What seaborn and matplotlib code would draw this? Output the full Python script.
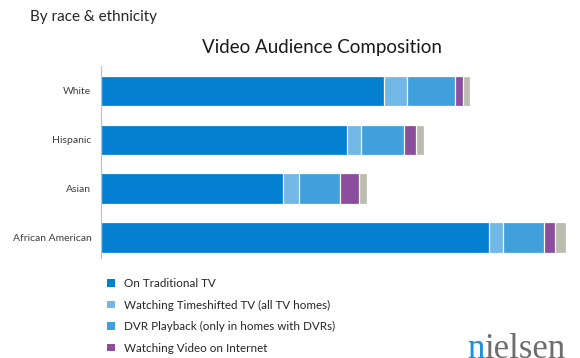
import numpy as np
import pandas as pd
import matplotlib
matplotlib.use("Agg")
import matplotlib.pyplot as plt
import seaborn as sns
from matplotlib.patches import Patch

categories = ["White", "Hispanic", "Asian", "African American"]
series = ["On Traditional TV", "Watching Timeshifted TV (all TV homes)",
          "DVR Playback (only in homes with DVRs)", "Watching Video on Internet",
          "Watching Video on Mobile Phone"]
traditional = [146.0, 127.0, 94.0, 200.0]
timeshifted = [11.7, 7.0, 8.2, 7.1]
dvr = [25.0, 22.4, 21.1, 21.1]
internet = [3.8, 6.2, 9.7, 5.7]
mobile = [3.8, 3.9, 4.1, 5.8]

colors = ["#0380D2", "#72B8E6", "#40A0DC", "#8A4E9C", "#BDBCB0"]

sns.set_theme(style="white")
plt.rcParams["font.family"] = ["Lato", "DejaVu Sans"]

fig = plt.figure(figsize=(5.8, 3.58), dpi=100)
W, H = 580, 358
ax = fig.add_axes([101 / W, 1 - 258 / H, (570 - 101) / W, (258 - 66) / H])

vals = np.array([traditional, timeshifted, dvr, internet, mobile])
cum = np.cumsum(vals, axis=0)
for i in reversed(range(len(series))):
    df = pd.DataFrame({"cat": categories, "v": cum[i]})
    sns.barplot(data=df, x="v", y="cat", orient="h", color=colors[i], width=0.62,
                edgecolor="white", linewidth=0.9, saturation=1, ax=ax)

ax.set_xlim(0, (570 - 101) / 1.94)
ax.set_ylim(3.42, -0.51)
ax.set_xlabel("")
ax.set_ylabel("")
ax.set_xticks([])
for s in ["top", "right", "bottom"]:
    ax.spines[s].set_visible(False)
ax.spines["left"].set_color("#BFBFBF")
ax.spines["left"].set_linewidth(0.8)
ax.tick_params(axis="y", length=0, pad=7, labelsize=7.5, labelcolor="#404040")

fig.text(322 / W, 1 - 48 / H, "Video Audience Composition", ha="center", va="center",
         fontsize=13.5, color="#1A1A1A")
fig.text(30 / W, 1 - 17 / H, "By race & ethnicity", ha="left", va="center",
         fontsize=11, color="#262626")

handles = [Patch(facecolor=colors[i], edgecolor="none") for i in range(4)]
fig.legend(handles, series[:4], loc="upper left",
           bbox_to_anchor=(107 / W, 1 - 278 / H), frameon=False,
           fontsize=8.4, handlelength=0.65, handleheight=0.65, handletextpad=0.85,
           labelspacing=0.9, borderaxespad=0, borderpad=0,
           labelcolor="#262626")

t1 = fig.text(467 / W, 1 - 358 / H, "n", ha="left", va="baseline", fontsize=25,
              family="Liberation Serif", color="#1E90D8")
fig.canvas.draw()
bb = t1.get_window_extent()
fig.text(bb.x1 / W, 1 - 358 / H, "ielsen", ha="left", va="baseline", fontsize=25,
         family="Liberation Serif", color="#6E6E6E")

fig.savefig("out.png", dpi=100)
